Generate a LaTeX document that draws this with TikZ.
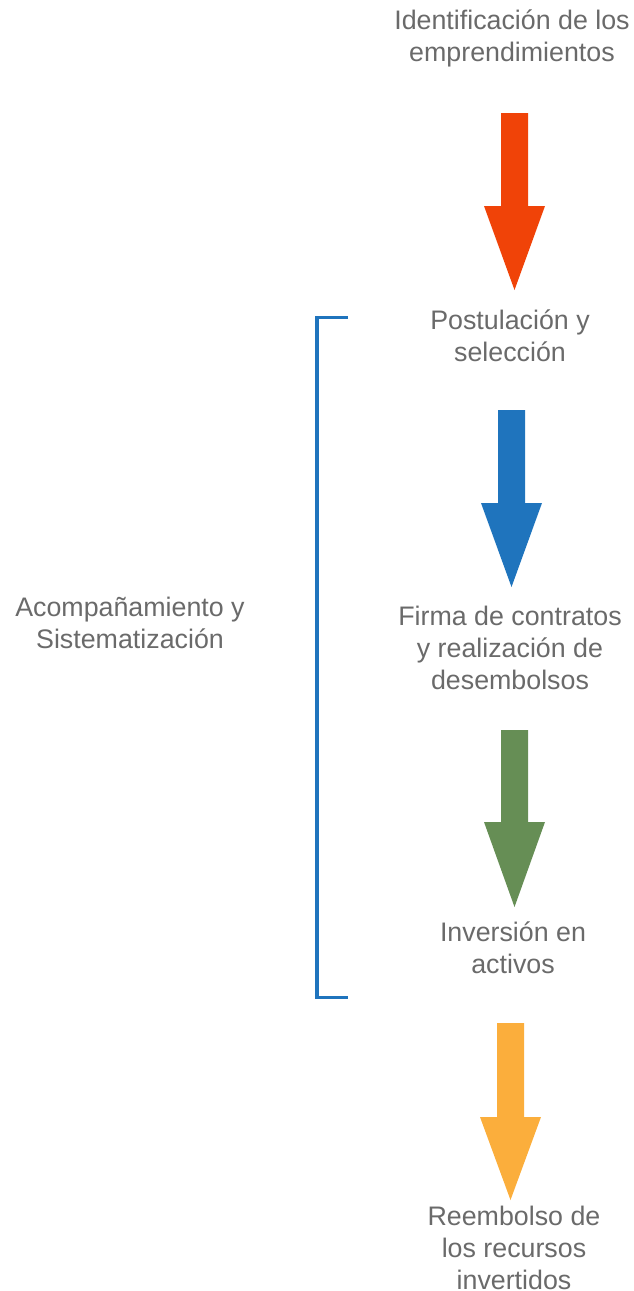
\documentclass[tikz,border=0pt]{standalone}
\usepackage{fontspec}
\setmainfont{Liberation Sans}
\definecolor{txtgray}{HTML}{6A6A6A}
\definecolor{arrred}{HTML}{F04308}
\definecolor{arrblue}{HTML}{1F74BD}
\definecolor{arrgreen}{HTML}{668E55}
\definecolor{arryellow}{HTML}{FBAE3C}
\newcommand{\blockarrow}[5]{%
  \fill[#1] (#2-13.5,#3) -- (#2+13.5,#3) -- (#2+13.5,#4) -- (#2+30.5,#4)
    -- (#2,#5) -- (#2-30.5,#4) -- (#2-13.5,#4) -- cycle;}
\begin{document}
\begin{tikzpicture}[x=1pt,y=-1pt,
  lbl/.style={text=txtgray,align=center,font=\fontsize{26.8}{32}\selectfont,inner sep=0pt}]
\useasboundingbox (0,0) rectangle (634,1291);
\node[lbl] (t1) at (512,38) {Identificación de los\\emprendimientos};
\node[lbl] (t2) at (510,336) {Postulación y\\selección};
\node[lbl] (t3) at (510,648) {Firma de contratos\\y realización de\\desembolsos};
\node[lbl] (t4) at (513,948) {Inversión en\\activos};
\node[lbl] (t5) at (514,1248) {Reembolso de\\los recursos\\invertidos};
\node[lbl] (ta) at (130,623) {Acompañamiento y\\Sistematización};
\blockarrow{arrred}{514.5}{113}{206}{290}
\blockarrow{arrblue}{511.5}{410}{503}{587}
\blockarrow{arrgreen}{514.5}{730}{822}{907}
\blockarrow{arryellow}{510.5}{1023}{1117}{1200}
\coordinate (b1) at (348,317.5);
\coordinate (b2) at (348,997.5);
\draw[arrblue,line width=3.5pt] (b1) -- (317,317.5) -- (317,997.5) -- (b2);
\end{tikzpicture}
\end{document}
